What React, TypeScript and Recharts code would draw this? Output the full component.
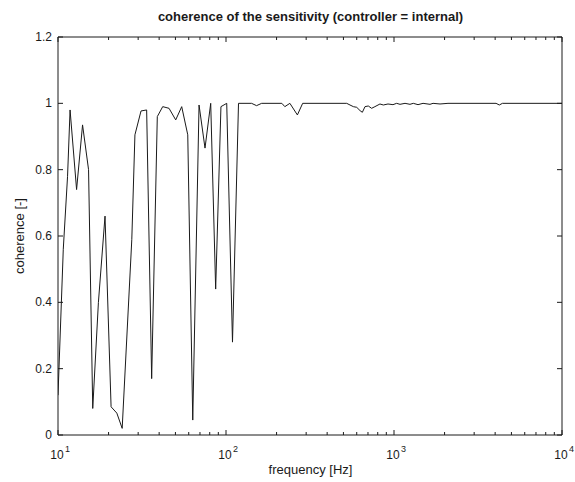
import { LineChart, Line, XAxis, YAxis } from "recharts";

// frequency [Hz] and coherence [-]
const freq = [
  10, 10.75, 11.4, 11.8, 12.9, 14.0, 15.2, 16.1, 17.4, 19.05, 20.7, 22.4, 24.1,
  27.5, 28.7, 31.2, 33.7, 36.1, 39.0, 42.0, 45.8, 50.2, 54.5, 59.2, 63.4, 69.1,
  75.0, 81.1, 86.8, 93.3, 101, 109.3, 118.7,
  142, 152, 163, 215, 224, 240, 266, 286,
  523, 547, 573, 600, 628, 648, 672, 703, 736, 770, 825, 864, 921, 986, 1037,
  1086, 1163, 1245, 1303, 1390, 1489, 1638, 1708, 1879, 2096,
  4050, 4236, 4420, 10000,
];
const coherence = [
  0.12, 0.56, 0.78, 0.98, 0.74, 0.935, 0.8, 0.08, 0.4, 0.66, 0.085, 0.066, 0.02,
  0.59, 0.905, 0.977, 0.98, 0.17, 0.96, 0.99, 0.985, 0.95, 0.99, 0.905, 0.045, 0.995,
  0.865, 1.0, 0.44, 0.99, 1.0, 0.28, 1.0,
  1.0, 0.993, 1.0, 1.0, 0.99, 1.0, 0.965, 1.0,
  1.0, 0.995, 0.99, 0.988, 0.978, 0.973, 0.99, 0.992, 0.985, 0.99, 0.998, 0.995, 0.998, 0.996, 1.0,
  0.997, 1.0, 0.997, 1.0, 0.996, 1.0, 0.997, 1.0, 0.998, 1.0,
  1.0, 0.995, 1.0, 1.0,
];

const decadeTicks = [10, 100, 1000, 10000];
const minorTicks = [
  20, 30, 40, 50, 60, 70, 80, 90,
  200, 300, 400, 500, 600, 700, 800, 900,
  2000, 3000, 4000, 5000, 6000, 7000, 8000, 9000,
];
const yTicks = [0, 0.2, 0.4, 0.6, 0.8, 1, 1.2];

const data = freq.map((f, i) => ({ f, c: coherence[i] }));
const xTicks = [...decadeTicks, ...minorTicks].sort((a, b) => a - b);

const INK = "#1a1a1a";
const FONT = "'Liberation Sans', Arial, sans-serif";

function BottomTick({ x, y, payload }: any) {
  const v = payload.value;
  const major = decadeTicks.includes(v);
  return (
    <g>
      <line x1={x} y1={y} x2={x} y2={y - (major ? 5 : 3)} stroke={INK} />
      {major && (
        <g fontFamily={FONT} fill={INK}>
          <text x={x - 1} y={y + 24} fontSize={12} textAnchor="middle">10</text>
          <text x={x + 7} y={y + 17} fontSize={9}>{Math.round(Math.log10(v))}</text>
        </g>
      )}
    </g>
  );
}

function TopTick({ x, y, payload }: any) {
  const major = decadeTicks.includes(payload.value);
  return <line x1={x} y1={y} x2={x} y2={y + (major ? 5 : 3)} stroke={INK} />;
}

function LeftTick({ x, y, payload }: any) {
  return (
    <g>
      <line x1={x} y1={y} x2={x + 5} y2={y} stroke={INK} />
      <text x={x - 6} y={y + 4} fontSize={12} fontFamily={FONT} fill={INK} textAnchor="end">
        {String(payload.value)}
      </text>
    </g>
  );
}

function RightTick({ x, y }: any) {
  return <line x1={x} y1={y} x2={x - 5} y2={y} stroke={INK} />;
}

export default function App() {
  return (
    <div style={{ position: "absolute", left: 0, top: 0, width: 575, height: 482, background: "#fff" }}>
      <div
        style={{
          position: "absolute", left: 0, width: 621, top: 9, textAlign: "center",
          fontFamily: FONT, fontSize: 13, fontWeight: "bold", color: INK,
        }}
      >
        coherence of the sensitivity (controller = internal)
      </div>
      <div style={{ position: "absolute", left: 0, width: 621, top: 462, textAlign: "center", fontFamily: FONT, fontSize: 13, color: INK }}>
        frequency [Hz]
      </div>
      <div
        style={{
          position: "absolute", left: 19, top: 236, transform: "translate(-50%, -50%) rotate(-90deg)",
          whiteSpace: "nowrap", fontFamily: FONT, fontSize: 13, color: INK,
        }}
      >
        coherence [-]
      </div>
      <LineChart width={575} height={482} data={data} margin={{ top: 32, right: 8, bottom: 17, left: 18 }}>
        <XAxis
          dataKey="f" type="number" scale="log" domain={[10, 10000]} ticks={xTicks} interval={0}
          height={30} tickSize={0} tickMargin={0} tick={<BottomTick />} axisLine={{ stroke: INK }} allowDataOverflow
        />
        <XAxis
          xAxisId="top" orientation="top" dataKey="f" type="number" scale="log" domain={[10, 10000]} ticks={xTicks}
          interval={0} height={5} tickSize={0} tickMargin={0} tick={<TopTick />} axisLine={{ stroke: INK }} allowDataOverflow
        />
        <YAxis
          domain={[0, 1.2]} ticks={yTicks} interval={0} width={40} tickSize={0} tickMargin={0}
          tick={<LeftTick />} axisLine={{ stroke: INK }} allowDataOverflow
        />
        <YAxis
          yAxisId="right" orientation="right" domain={[0, 1.2]} ticks={yTicks} interval={0} width={5}
          tickSize={0} tickMargin={0} tick={<RightTick />} axisLine={{ stroke: INK }} allowDataOverflow
        />
        <Line dataKey="c" stroke={INK} strokeWidth={1} dot={false} type="linear" isAnimationActive={false} />
      </LineChart>
    </div>
  );
}
